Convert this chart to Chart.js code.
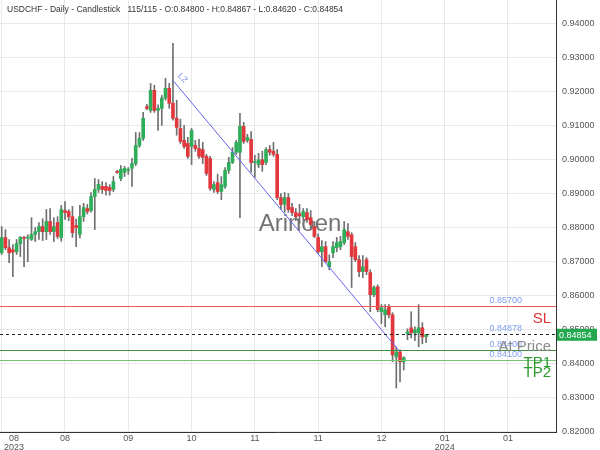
<!DOCTYPE html>
<html>
<head>
<meta charset="utf-8">
<script src="https://cdn.jsdelivr.net/npm/chart.js"></script>
<style>
  html, body { margin: 0; padding: 0; background: #fff; }
  #wrap { width: 600px; height: 450px; position: relative; }
</style>
</head>
<body>
<div id="wrap"><canvas id="chart"></canvas></div>
<script>
// ---------------------------------------------------------------
// Data
// ---------------------------------------------------------------
const opens = [
  0.8726, 0.8771, 0.8741, 0.8735, 0.8729, 0.8753, 0.8771, 0.8769, 0.8765, 0.8780,
  0.8788, 0.8803, 0.8788, 0.8818, 0.8788, 0.8815, 0.8771, 0.8850, 0.8847, 0.8832,
  0.8806, 0.8780, 0.8832, 0.8856, 0.8850, 0.8891, 0.8912, 0.8921, 0.8921, 0.8918,
  0.8912, 0.8965, 0.8944, 0.8962, 0.8968, 0.8974, 0.8988, 0.9041, 0.9062, 0.9155,
  0.9144, 0.9203, 0.9144, 0.9150, 0.9180, 0.9209, 0.9165, 0.9121, 0.9091, 0.9056,
  0.9047, 0.9038, 0.9041, 0.9032, 0.9029, 0.9009, 0.9003, 0.8912, 0.8932, 0.8906,
  0.8921, 0.8968, 0.8991, 0.9021, 0.9021, 0.9097, 0.9056, 0.9059, 0.8991, 0.8985,
  0.8999, 0.8991, 0.9029, 0.9024, 0.9015, 0.8888, 0.8868, 0.8888, 0.8859, 0.8844,
  0.8841, 0.8832, 0.8844, 0.8829, 0.8803, 0.8771, 0.8729, 0.8744, 0.8685, 0.8726,
  0.8741, 0.8744, 0.8756, 0.8788, 0.8779, 0.8744, 0.8706, 0.8671, 0.8706, 0.8668,
  0.8603, 0.8626, 0.8553, 0.8544, 0.8568, 0.8544, 0.8420, 0.8435, 0.8406, 0.8488,
  0.8506, 0.8491, 0.8491, 0.8506, 0.8480
];
const highs = [
  0.8803, 0.8794, 0.8765, 0.8750, 0.8765, 0.8774, 0.8774, 0.8779, 0.8829, 0.8800,
  0.8815, 0.8826, 0.8853, 0.8856, 0.8829, 0.8832, 0.8865, 0.8876, 0.8853, 0.8862,
  0.8825, 0.8865, 0.8871, 0.8868, 0.8903, 0.8944, 0.8941, 0.8935, 0.8932, 0.8926,
  0.8950, 0.8968, 0.8982, 0.8980, 0.8976, 0.9003, 0.9079, 0.9079, 0.9138, 0.9162,
  0.9223, 0.9218, 0.9160, 0.9188, 0.9238, 0.9223, 0.9341, 0.9174, 0.9118, 0.9100,
  0.9065, 0.9091, 0.9056, 0.9059, 0.9050, 0.9015, 0.9009, 0.8935, 0.8957, 0.8950,
  0.8976, 0.9006, 0.9035, 0.9056, 0.9135, 0.9109, 0.9074, 0.9082, 0.9012, 0.9018,
  0.9024, 0.9035, 0.9041, 0.9050, 0.9029, 0.8900, 0.8903, 0.8900, 0.8871, 0.8856,
  0.8868, 0.8856, 0.8856, 0.8850, 0.8818, 0.8782, 0.8762, 0.8759, 0.8720, 0.8759,
  0.8771, 0.8774, 0.8818, 0.8812, 0.8785, 0.8756, 0.8718, 0.8718, 0.8712, 0.8676,
  0.8629, 0.8632, 0.8574, 0.8574, 0.8574, 0.8550, 0.8450, 0.8441, 0.8421, 0.8503,
  0.8553, 0.8509, 0.8574, 0.8521, 0.84867
];
const lows = [
  0.8721, 0.8735, 0.8697, 0.8656, 0.8721, 0.8715, 0.8685, 0.8700, 0.8762, 0.8759,
  0.8765, 0.8762, 0.8765, 0.8780, 0.8759, 0.8768, 0.8760, 0.8824, 0.8820, 0.8771,
  0.8744, 0.8770, 0.8818, 0.8840, 0.8845, 0.8794, 0.8903, 0.8900, 0.8895, 0.8895,
  0.8905, 0.8959, 0.8938, 0.8950, 0.8956, 0.8921, 0.8982, 0.9035, 0.9056, 0.9146,
  0.9138, 0.9138, 0.9085, 0.9100, 0.9174, 0.9150, 0.9115, 0.9071, 0.9047, 0.9032,
  0.9003, 0.8985, 0.9024, 0.9003, 0.8988, 0.8953, 0.8909, 0.8903, 0.8900, 0.8882,
  0.8915, 0.8959, 0.8988, 0.9015, 0.8829, 0.9047, 0.9050, 0.8962, 0.8947, 0.8976,
  0.8965, 0.8985, 0.9012, 0.9009, 0.8882, 0.8853, 0.8845, 0.8845, 0.8835, 0.8821,
  0.8812, 0.8821, 0.8815, 0.8797, 0.8771, 0.8724, 0.8685, 0.8697, 0.8676, 0.8712,
  0.8729, 0.8735, 0.8750, 0.8765, 0.8624, 0.8700, 0.8656, 0.8653, 0.8662, 0.8553,
  0.8597, 0.8553, 0.8518, 0.8509, 0.8535, 0.8406, 0.8329, 0.8347, 0.8382, 0.8471,
  0.8476, 0.8468, 0.8450, 0.8459, 0.8462
];
const closes = [
  0.8771, 0.8741, 0.8726, 0.8728, 0.8753, 0.8771, 0.8768, 0.8772, 0.8780, 0.8788,
  0.8803, 0.8788, 0.8818, 0.8788, 0.8803, 0.8774, 0.8853, 0.8844, 0.8832, 0.8785,
  0.8800, 0.8832, 0.8859, 0.8847, 0.8891, 0.8912, 0.8927, 0.8912, 0.8909, 0.8909,
  0.8935, 0.8962, 0.8971, 0.8974, 0.8971, 0.8988, 0.9041, 0.9062, 0.9121, 0.9150,
  0.9203, 0.9144, 0.9150, 0.9180, 0.9209, 0.9165, 0.9121, 0.9094, 0.9053, 0.9038,
  0.9009, 0.9085, 0.9032, 0.9009, 0.9006, 0.8959, 0.8915, 0.8926, 0.8906, 0.8926,
  0.8968, 0.8991, 0.9021, 0.9050, 0.9097, 0.9053, 0.9065, 0.8991, 0.8994, 0.8999,
  0.8985, 0.9029, 0.9021, 0.9015, 0.8888, 0.8868, 0.8888, 0.8853, 0.8844, 0.8832,
  0.8835, 0.8847, 0.8824, 0.8809, 0.8774, 0.8729, 0.8744, 0.8700, 0.8700, 0.8744,
  0.8756, 0.8759, 0.8794, 0.8774, 0.8715, 0.8706, 0.8671, 0.8685, 0.8671, 0.8603,
  0.8624, 0.8559, 0.8565, 0.8559, 0.8544, 0.8426, 0.8435, 0.8406, 0.8418, 0.8494,
  0.8491, 0.8500, 0.8506, 0.8479, 0.84854
];

// date ticks along the bottom (candle index -> label)
const xTickPos = [0, 17, 34, 51, 68, 85, 102, 119, 136];
const xTickLabels = [['08', '2023'], ['08'], ['09'], ['10'], ['11'], ['11'], ['12'], ['01', '2024'], ['01']];

// trend line "L2"
const trendX = [46, 107];
const trendY = [0.9232, 0.8435];

// horizontal levels
const levelValues = [0.857, 0.84878, 0.844, 0.841];
const levelNames = ['SL', 'At Price', 'TP1', 'TP2'];

const lastPrice = 0.84854;
const title = 'USDCHF - Daily - Candlestick   115/115 - O:0.84800 - H:0.84867 - L:0.84620 - C:0.84854';

// ---------------------------------------------------------------
const GREEN = '#2fae5a';
const RED = '#e2373c';
const FONT = '"Liberation Sans", Arial, sans-serif';

const wickData = opens.map((o, i) => ({ x: i, y: [lows[i], highs[i]] }));
const bodyData = opens.map((o, i) => ({ x: i, y: [Math.min(o, closes[i]), Math.max(o, closes[i])] }));
const bodyColors = opens.map((o, i) => closes[i] >= o ? GREEN : RED);

const levelStyle = [
  { line: '#f05a5a', text: '#e03535', dash: [] },
  { line: '#222222', text: '#8a8a8a', dash: [3, 3] },
  { line: '#3f8f3f', text: '#2f9a2f', dash: [] },
  { line: '#76c476', text: '#2f9a2f', dash: [] }
];

const overlay = {
  id: 'overlay',
  beforeDatasetsDraw(chart) {
    const { ctx } = chart;
    ctx.save();
    ctx.font = '24px ' + FONT;
    ctx.fillStyle = 'rgba(70,70,70,0.75)';
    ctx.textAlign = 'center';
    ctx.textBaseline = 'middle';
    ctx.fillText('Arinoen', 300, 224);
    ctx.restore();
  },
  afterDraw(chart) {
    const { ctx, chartArea, scales: { x, y } } = chart;
    ctx.save();

    // level lines + labels
    levelValues.forEach((v, i) => {
      const py = Math.round(y.getPixelForValue(v)) + 0.5;
      const st = levelStyle[i];
      ctx.strokeStyle = st.line;
      ctx.lineWidth = 1;
      ctx.setLineDash(st.dash);
      ctx.beginPath();
      ctx.moveTo(chartArea.left, py);
      ctx.lineTo(chartArea.right, py);
      ctx.stroke();
    });
    ctx.setLineDash([]);
    levelValues.forEach((v) => {
      const py = y.getPixelForValue(v);
      ctx.font = '9px ' + FONT;
      ctx.fillStyle = '#7f9ef0';
      ctx.textAlign = 'right';
      ctx.textBaseline = 'bottom';
      ctx.fillText(v.toFixed(5), 522, py - 1);
    });
    levelValues.forEach((v, i) => {
      const py = y.getPixelForValue(v);
      ctx.font = '15px ' + FONT;
      ctx.fillStyle = levelStyle[i].text;
      ctx.textAlign = 'right';
      ctx.textBaseline = 'top';
      ctx.fillText(levelNames[i], 551, py + 5);
    });

    // L2 label
    const tx = x.getPixelForValue(trendX[0]);
    const ty = y.getPixelForValue(trendY[0]);
    ctx.save();
    ctx.translate(tx + 6, ty - 6);
    ctx.rotate(Math.PI / 4);
    ctx.font = '9px ' + FONT;
    ctx.fillStyle = '#7f8ff0';
    ctx.textAlign = 'left';
    ctx.textBaseline = 'middle';
    ctx.fillText('L2', 0, 0);
    ctx.restore();

    // last price box on the axis
    const pp = y.getPixelForValue(lastPrice);
    ctx.fillStyle = '#23a84f';
    ctx.fillRect(chartArea.right + 1, pp - 6, 40, 12);
    ctx.fillStyle = '#ffffff';
    ctx.font = '9px ' + FONT;
    ctx.textAlign = 'left';
    ctx.textBaseline = 'middle';
    ctx.fillText(lastPrice.toFixed(5), chartArea.right + 3, pp + 0.5);

    // date labels
    ctx.fillStyle = '#555';
    ctx.font = '9px ' + FONT;
    ctx.textAlign = 'center';
    ctx.textBaseline = 'top';
    xTickPos.forEach((v, i) => {
      const lines = xTickLabels[i];
      const w = Math.max(...lines.map(s => ctx.measureText(s).width));
      let px = x.getPixelForValue(v);
      px = Math.max(px, chartArea.left + w / 2 + 4);
      lines.forEach((s, k) => ctx.fillText(s, px, chartArea.bottom + 2 + k * 9));
    });

    // header
    ctx.fillStyle = '#333';
    ctx.font = '8.5px ' + FONT;
    ctx.textAlign = 'left';
    ctx.textBaseline = 'middle';
    ctx.fillText(title, 7, 10);

    ctx.restore();
  }
};

new Chart(document.getElementById('chart'), {
  type: 'bar',
  data: {
    datasets: [
      {
        type: 'line',
        data: trendX.map((v, i) => ({ x: v, y: trendY[i] })),
        borderColor: '#6464ee',
        borderWidth: 1,
        pointRadius: 0,
        order: 0
      },
      {
        data: wickData,
        backgroundColor: '#6f6f6f',
        barThickness: 1,
        grouped: false,
        order: 2
      },
      {
        data: bodyData,
        backgroundColor: bodyColors,
        barThickness: 3,
        minBarLength: 1,
        grouped: false,
        order: 1
      }
    ]
  },
  options: {
    responsive: true,
    maintainAspectRatio: false,
    animation: false,
    layout: { padding: 0 },
    plugins: {
      legend: { display: false },
      tooltip: { enabled: false },
      title: { display: false }
    },
    scales: {
      x: {
        type: 'linear',
        offset: false,
        min: -0.46,
        max: 148.9,
        afterBuildTicks: (axis) => { axis.ticks = xTickPos.map(v => ({ value: v })); },
        afterFit: (axis) => { axis.height = 18; axis.paddingLeft = 0; axis.paddingRight = 0; },
        ticks: { display: false },
        grid: { color: '#e8e8e8', drawTicks: false, offset: false },
        border: { display: true, color: '#333' }
      },
      y: {
        position: 'right',
        min: 0.82,
        max: 0.9468,
        afterFit: (axis) => { axis.width = 44; axis.paddingTop = 0; axis.paddingBottom = 0; },
        ticks: {
          stepSize: 0.01,
          includeBounds: false,
          padding: 6,
          color: '#555',
          font: { size: 9, family: FONT },
          callback: (v) => Number(v).toFixed(5)
        },
        grid: { color: '#e8e8e8', drawTicks: false },
        border: { display: true, color: '#333' }
      }
    }
  },
  plugins: [overlay]
});
</script>
</body>
</html>
